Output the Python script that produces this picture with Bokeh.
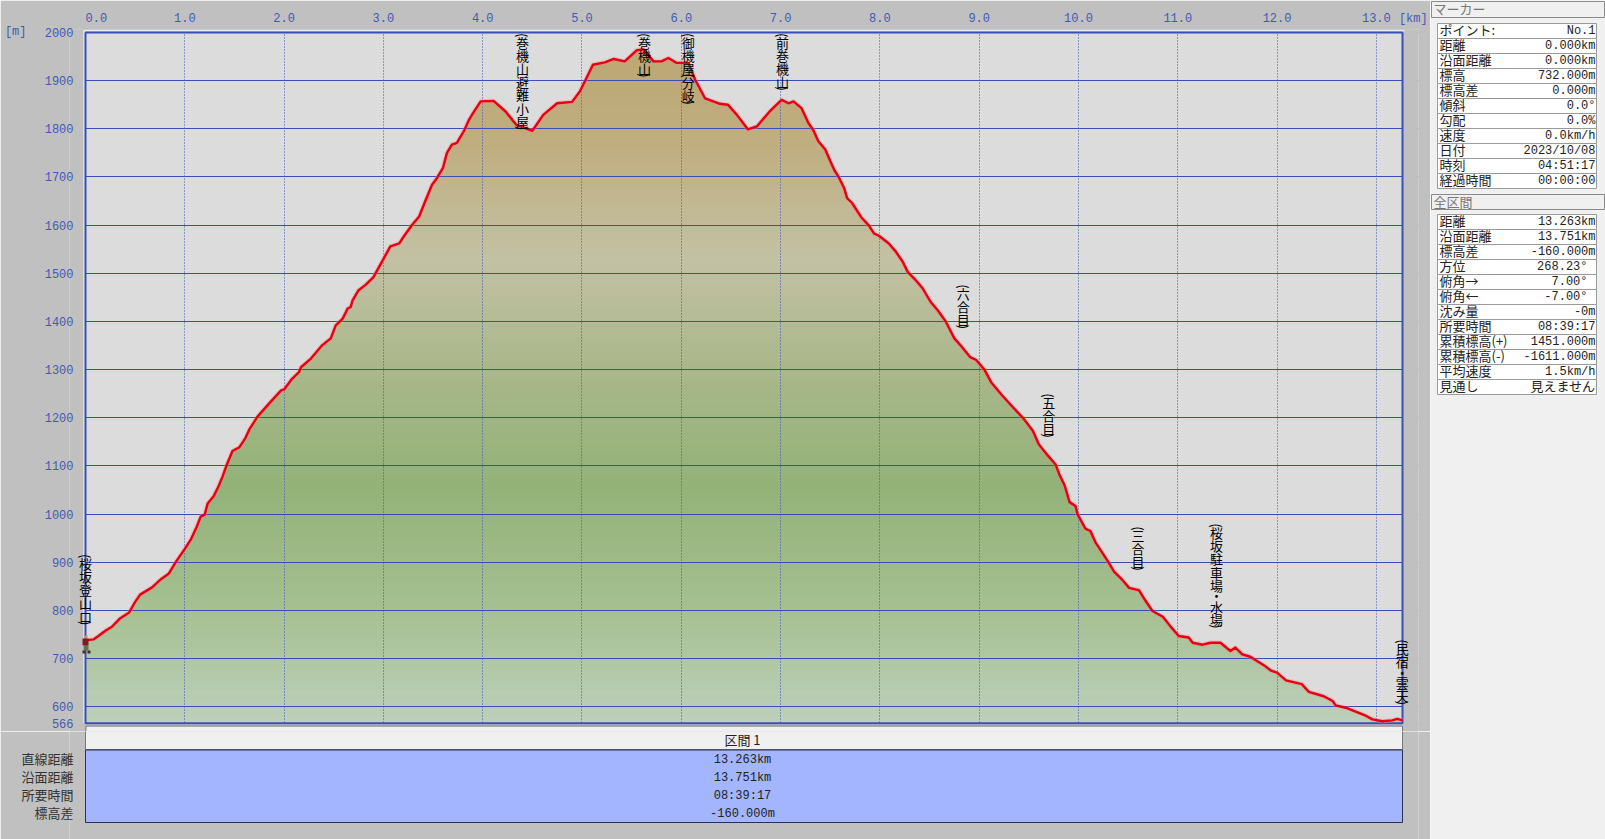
import numpy as np
from bokeh.plotting import figure
from bokeh.layouts import row, column
from bokeh.models import (Label, BoxAnnotation, FixedTicker, Range1d, LinearAxis)
from bokeh.core.properties import value
from bokeh.embed import file_html
from bokeh.resources import INLINE

# ---------- data ----------
dist_km = [0.0,0.08,0.13,0.20,0.27,0.35,0.44,0.50,0.55,0.67,0.76,0.84,0.91,1.0,1.06,1.12,1.16,1.20,1.23,1.29,
           1.34,1.38,1.42,1.48,1.55,1.61,1.65,1.73,1.85,1.97,2.0,2.08,2.15,2.17,2.27,2.385,2.47,2.52,2.59,2.64,
           2.67,2.69,2.75,2.82,2.90,2.99,3.07,3.16,3.21,3.29,3.36,3.42,3.49,3.54,3.60,3.64,3.69,3.74,3.81,3.86,
           3.91,3.98,4.11,4.23,4.34,4.50,4.61,4.75,4.90,4.98,5.11,5.23,5.32,5.43,5.55,5.62,5.72,5.80,5.87,5.95,
           6.07,6.14,6.24,6.39,6.47,6.56,6.67,6.76,6.89,7.01,7.08,7.13,7.21,7.28,7.33,7.38,7.45,7.50,7.54,7.59,
           7.64,7.67,7.72,7.81,7.89,7.94,7.99,8.09,8.16,8.23,8.28,8.36,8.43,8.51,8.58,8.66,8.75,8.81,8.91,8.97,
           9.05,9.12,9.23,9.34,9.44,9.54,9.60,9.69,9.77,9.81,9.86,9.91,9.97,9.99,10.07,10.12,10.17,10.29,10.36,10.44,
           10.51,10.61,10.66,10.745,10.85,10.93,11.01,11.11,11.15,11.25,11.33,11.43,11.53,11.58,11.65,11.73,11.87,11.94,12.0,12.09,
           12.25,12.32,12.47,12.56,12.59,12.71,12.88,12.96,13.06,13.16,13.21,13.263]
elev_m = [738,740,747,758,767,784,796,818,833,848,865,877,901,928,947,974,995,999,1022,1037,
          1058,1078,1101,1131,1139,1158,1176,1202,1230,1257,1259,1281,1295,1305,1323,1351,1365,1392,1406,1427,
          1430,1444,1465,1476,1492,1526,1556,1562,1578,1601,1618,1649,1684,1698,1719,1750,1767,1771,1795,1818,
          1835,1857,1858,1836,1808,1796,1829,1853,1856,1878,1933,1938,1945,1940,1963,1965,1940,1940,1947,1937,
          1937,1902,1863,1852,1850,1829,1799,1805,1836,1860,1853,1857,1843,1812,1797,1774,1757,1733,1715,1698,
          1677,1656,1646,1617,1599,1583,1578,1562,1545,1524,1503,1486,1469,1441,1424,1401,1365,1351,1326,1320,
          1301,1274,1247,1222,1200,1173,1145,1122,1103,1081,1060,1025,1017,1000,970,965,942,904,880,864,
          847,842,825,799,787,766,747,744,733,729,733,733,716,723,709,704,686,675,671,655,
          647,631,622,612,603,597,583,574,570,572,575,572]

x_ticks = list(range(0, 14))
y_ticks = [566, 600, 700, 800, 900, 1000, 1100, 1200, 1300, 1400, 1500, 1600, 1700, 1800, 1900, 2000]

poi_names = ["(桜坂登山口)", "(巻機山避難小屋)", "(巻機山)", "(御機屋(分岐)", "(前巻機山)",
             "(六合目)", "(五合目)", "(三合目)", "(桜坂駐車場・水場)", "(民宿・雲天)"]
poi_km = [0.0, 4.40, 5.63, 6.07, 7.02, 8.84, 9.70, 10.60, 11.39, 13.26]
poi_first_char_m = [898, 1980, 1980, 1980, 1980, 1458, 1232, 956, 962, 721]

marker_rows = [("ポイント:", "No.1"), ("距離", "0.000km"), ("沿面距離", "0.000km"), ("標高", "732.000m"),
               ("標高差", "0.000m"), ("傾斜", "0.0°"), ("勾配", "0.0%"), ("速度", "0.0km/h"),
               ("日付", "2023/10/08"), ("時刻", "04:51:17"), ("経過時間", "00:00:00")]
total_rows = [("距離", "13.263km"), ("沿面距離", "13.751km"), ("標高差", "-160.000m"), ("方位", "268.23°"),
              ("俯角→", "7.00°"), ("俯角←", "-7.00°"), ("沈み量", "-0m"), ("所要時間", "08:39:17"),
              ("累積標高(+)", "1451.000m"), ("累積標高(-)", "-1611.000m"), ("平均速度", "1.5km/h"), ("見通し", "見えません")]
section_labels = ["直線距離", "沿面距離", "所要時間", "標高差"]
section_values = ["13.263km", "13.751km", "08:39:17", "-160.000m"]
section_title = "区間 1"

# ---------- style ----------
PAGE = "#c0c0c0"
BLUE = "#3a4fb6"
TICK = "#4459b4"
MONO = "'Liberation Mono','Noto Sans CJK JP'"
CJK = "Noto Sans CJK JP"
stops_m = [566, 800, 1060, 1300, 1530, 1750, 1930, 2000]
stops_rgb = np.array([[189, 208, 187], [166, 192, 146], [147, 178, 120], [170, 183, 138],
                      [195, 193, 164], [192, 175, 130], [189, 168, 118], [189, 168, 118]], dtype=float)
KM0, KM1, M0, M1 = 0.0, 13.263, 566.0, 2000.0
PAD_X = 16 / 99.3      # frame runs a little past the profile so that edge labels stay whole
M_TOP, M_BOTTOM = 2006.2, 548.8

# ---------- chart ----------
p = figure(width=1430, height=731, output_backend="svg", toolbar_location=None,
           x_range=Range1d(KM0 - PAD_X, KM1 + PAD_X), y_range=Range1d(M_BOTTOM, M_TOP), x_axis_location="above",
           min_border_left=69, min_border_right=12, min_border_top=29, min_border_bottom=0,
           background_fill_color=PAGE, border_fill_color=PAGE, outline_line_color=None)

def style_axis(a, font=MONO, size="12px", color=TICK):
    a.axis_line_color = None
    a.major_tick_line_color = None
    a.minor_tick_line_color = None
    a.major_tick_out = 0
    a.major_tick_in = 0
    a.major_label_text_color = color
    a.major_label_text_font = font
    a.major_label_text_font_size = size

xa, ya = p.xaxis[0], p.yaxis[0]
style_axis(xa)
style_axis(ya)
xa.ticker = FixedTicker(ticks=x_ticks + [KM1])
ya.ticker = FixedTicker(ticks=y_ticks)
ov = {t: f"{t:.1f}" for t in x_ticks}
ov[0] = "\u00a0\u00a0\u00a00.0"
ov[KM1] = "\u00a0\u00a0\u00a0[km]"
xa.major_label_overrides = ov
ya.major_label_overrides = {t: str(t) for t in y_ticks}
xa.major_label_standoff = 4
ya.major_label_standoff = -4

unit_axis = LinearAxis(ticker=FixedTicker(ticks=[2000]), major_label_overrides={2000: "[m]"})
style_axis(unit_axis)
unit_axis.major_label_standoff = 15
p.add_layout(unit_axis, "left")

p.xgrid.ticker = FixedTicker(ticks=x_ticks)
p.ygrid.ticker = FixedTicker(ticks=y_ticks)
p.xgrid.grid_line_color = BLUE
p.xgrid.grid_line_dash = "1 2"
p.xgrid.grid_line_width = 1
p.ygrid.grid_line_color = BLUE
p.ygrid.grid_line_width = 1

# plot area and the height-graded fill under the profile
p.quad(left=[KM0], right=[KM1], bottom=[M0], top=[M1], fill_color="#dcdcdc", line_color=None, level="image")
xs = np.array(dist_km, dtype=float)
ys = np.array(elev_m, dtype=float)
for t_ in np.arange(1970, 566, -8.0):
    rgb = [int(round(np.interp(t_ - 4, stops_m, stops_rgb[:, i]))) for i in range(3)]
    p.varea(x=xs, y1=np.full(xs.shape, M0), y2=np.minimum(ys, t_),
            fill_color="#%02x%02x%02x" % tuple(rgb), level="image")

# strips that mask the grid outside the plot area, then its frame
XL, XR = KM0 - PAD_X, KM1 + PAD_X
p.quad(left=[XL, KM1, XL, XL], right=[KM0, XR, XR, XR], bottom=[M_BOTTOM, M_BOTTOM, M1, M_BOTTOM],
       top=[M_TOP, M_TOP, M_TOP, M0], fill_color=PAGE, line_color=None)
p.line([KM0 - 0.015, KM0 - 0.015, KM1 + 0.02], [M0, M1 + 3.5, M1 + 3.5], line_color="#ffffff", line_width=1)
p.quad(left=[KM0], right=[KM1], bottom=[M0], top=[M1], fill_color=None, line_color=BLUE, line_width=2)
# top edge of the section header, which starts just under the plot
p.quad(left=[0.005], right=[KM1], bottom=[M_BOTTOM], top=[560.0], fill_color="#f0f0f0", line_color="#777777")

p.line(xs, ys, line_color="#ff8080", line_width=4.5, line_alpha=0.35, line_join="round")
p.line(xs, ys, line_color="#e60012", line_width=2.4, line_join="round")

# vertical place names, one upright character at a time; brackets are turned a quarter
for name, km, m in zip(poi_names, poi_km, poi_first_char_m):
    off = -7.0
    prev_small = True
    for i, ch in enumerate(name):
        small = ch in "()"
        if i > 0:
            off += 7.0 if (small or prev_small) else (10.5 if ("・" in (ch, name[i - 1])) else 13.2)
        p.add_layout(Label(x=km, y=m, y_offset=-off, text=ch, angle=-np.pi / 2 if small else 0.0,
                           text_align="center", text_baseline="middle", text_font_size="13px",
                           text_font=CJK, text_color="#000000"))
        prev_small = small

def cbox(l, r_, t_, b, c):
    p.add_layout(BoxAnnotation(left=l, right=r_, top=t_, bottom=b, left_units="canvas", right_units="canvas",
                               top_units="canvas", bottom_units="canvas", fill_color=c, fill_alpha=1,
                               line_color=None, level="overlay"))

# walking figure at the current point
cbox(84, 87, 635, 638, "#c98d60")
cbox(82, 88, 638, 645, "#7c1c24")
cbox(83, 88, 645, 650, "#6e6a4c")
cbox(82, 85, 650, 653, "#3a3528")
cbox(87, 90, 650, 653, "#3a3528")

# ---------- section table under the chart ----------
ry = [759, 777, 795, 813]
t = figure(width=1430, height=108, output_backend="svg", toolbar_location=None,
           x_range=Range1d(69, 1418), y_range=Range1d(839, 731), x_axis_type=None, y_axis_location="left",
           min_border_left=69, min_border_right=12, min_border_top=0, min_border_bottom=0,
           background_fill_color=PAGE, border_fill_color=PAGE, outline_line_color=None)
t.grid.visible = False
ta = t.yaxis[0]
style_axis(ta, font=CJK, size="13px", color="#333333")
ta.ticker = FixedTicker(ticks=[v - 1 for v in ry])
ta.major_label_overrides = {v - 1: s for v, s in zip(ry, section_labels)}
ta.major_label_standoff = -4
t.quad(left=[85], right=[1402], top=[730], bottom=[749], fill_color="#f0f0f0", line_color="#777777")
t.quad(left=[85], right=[1402], top=[749.5], bottom=[822], fill_color="#a3b5ff", line_color="#2a2f5a")
t.text(x=[742], y=[738.5], text=[section_title], text_font=value(CJK), text_font_size="13px",
       text_align="center", text_baseline="middle", text_color="#222222")
t.text(x=[742] * 4, y=ry, text=section_values, text_font=value(MONO), text_font_size="12px",
       text_align="center", text_baseline="middle", text_color="#222222")

# ---------- right info panel ----------
r = figure(width=175, height=839, output_backend="svg", toolbar_location=None,
           x_range=Range1d(1430, 1605), y_range=Range1d(839, 0), x_axis_type=None, y_axis_type=None,
           min_border=0, background_fill_color="#f0f0f0", border_fill_color="#f0f0f0", outline_line_color=None)
r.grid.visible = False

def title_bar(y0, y1, txt):
    r.quad(left=[1431], right=[1604], top=[y0], bottom=[y1], fill_color="#f0f0f0", line_color="#8a8a8a")
    r.text(x=[1433], y=[(y0 + y1) / 2 - 1], text=[txt], text_font=value(CJK), text_font_size="13px",
           text_align="left", text_baseline="middle", text_color="#777777")

def table(y_start, rows):
    for i, (k, v) in enumerate(rows):
        y0 = y_start + i * 15
        r.quad(left=[1437], right=[1596], top=[y0], bottom=[y0 + 15], fill_color="#ffffff", line_color="#9a9a9a")
        r.text(x=[1439], y=[y0 + 6], text=[k], text_font=value(CJK), text_font_size="13px",
               text_align="left", text_baseline="middle", text_color="#222222")
        inset = 8 if k in ("方位", "俯角→", "俯角←") else 0
        cjk_val = v == "見えません"
        r.text(x=[1595 - inset], y=[y0 + (6 if cjk_val else 7.5)], text=[v],
               text_font=value(CJK if cjk_val else MONO), text_font_size="13px" if cjk_val else "12px",
               text_align="right", text_baseline="middle", text_color="#222222")

title_bar(1, 17, "マーカー")
table(23, marker_rows)
title_bar(194, 209, "全区間")
table(214, total_rows)

root = row(column(p, t, spacing=0), r, spacing=0)
open("out.html", "w").write(file_html(root, INLINE))
